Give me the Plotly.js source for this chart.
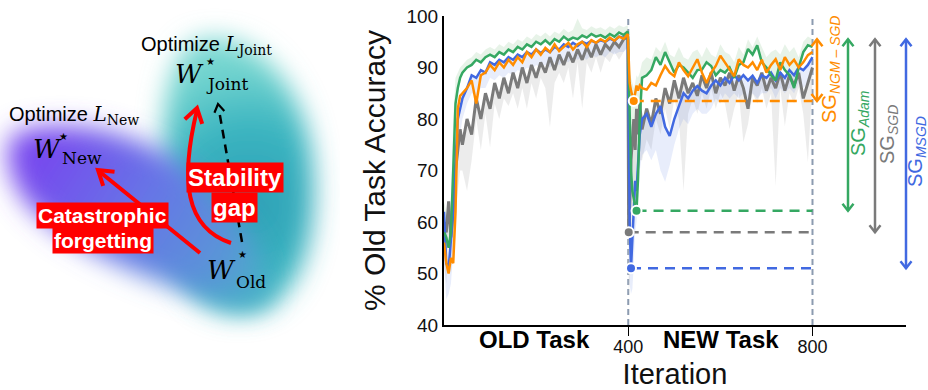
<!DOCTYPE html>
<html><head><meta charset="utf-8">
<script src="https://cdn.plot.ly/plotly-3.0.1.min.js"></script>
<style>html,body{margin:0;padding:0;background:#fff}#chart{width:928px;height:390px}</style>
</head><body><div id="chart"></div>
<script>
// ---------------- data ----------------
const iterations = [0,5,10,15,20,25,30,35,40,50,60,70,80,90,100,110,120,130,140,150,160,170,180,190,200,210,220,230,240,250,260,270,280,290,300,310,320,330,340,350,360,370,380,390,399,
  401,403,406,409,412,415,418,421,425,430,440,450,460,470,480,490,500,510,520,530,540,550,560,570,580,590,600,610,620,630,640,650,660,670,680,690,700,710,720,730,740,750,760,770,780,790,800];

const accNGM = [56,52,50,53,52,62,82,84.5,85, 86,87.5,83,88.5,89,90.5,89.5,91,90,91.5, 90.5,92,91,93,92,93.5,92.5,93.8,93,94.5, 93.2,94,94.8,93.5,94.5,95,94,95.3,94.8,95.5, 95,95.8,95.2,96,95.6, 96.5,
  92,87,85.5,84.5,83.5,85,86.5,85.5,86.5,86, 85.7,87,86.5,88.5,90.3,89,88.3,91,89.5,88.3, 90,91.6,89,87,89,90.3,92.3,91,89.5,88.3, 91.6,90.5,90,91,89.5,91.5,89,90.5,91.6,89.5, 92,90.5,91.5,90,91,92.4,93];

const accAdam = [58,57,55,58,70,83,86,88,89, 90,90.5,91.5,91,92,92.5,92,93,92.5,93.5, 93,94,93.5,94.5,94,95,94.5,95.3,94.5,95.5, 95,96,95.3,95.8,95.5,96.2,95.8,96.5,96,96.3, 95.8,96.5,96,96.8,96.3, 97,
  88,78,70,66,64,63,62.2,68,80,88, 88.5,89.5,92,90.5,93,91,89,90.5,90,89, 88,89.5,89.6,91,90.3,88.5,89.5,89,90,88, 90.5,91,93.6,92.5,94.3,91,90,88.5,87.5,91, 89.5,88.5,86,90,93,94.3,94];

const accSGD = [60,58,64,57,62,70,74,78,75, 80,77,84,80,85,82,87,84,88,85, 89,86,90,87,90.5,88,91,89,92,89.5, 92.5,90.5,93,91,93.5,91.5,94,92,94.5,92.5, 94.5,93.5,95,94,95.5, 96,
  58,62,72,76,80,74,82,77,83,78, 82,79,84,81,86,83,87.5,84,88,85, 87,84.5,88.5,86,89,85,88,86.5,89,85.5, 88.5,86,82,88,86.5,89,85.5,88,86,89, 85.5,88.5,86.5,89,84,87,90];

const accMSGD = [62,52,51,56,62,72,80,82,84, 86,88.5,88,89.5,89,91,90.5,91.5,91,92, 91.5,92.5,92,93,92.5,93.5,92.8,93.5,93,94, 93.5,94.5,94,94.8,94.2,95,94.6,95.2,94.8,95.3, 95,95.6,95.2,96,95.8, 96.5,
  80,60,51,56,62,68,66,72,77,80, 81,78.5,81,82.5,78.5,76.7,80,82.5,85,84, 85.5,86.4,85.5,85,86.5,87.5,86.5,88,87,88.5, 87.5,88.5,87.5,88.4,87,88.5,88,89,87.5,89, 88,89.5,88.5,90,89.5,90.5,92];

// lower envelope of the SGD runs (light grey spikes)
const sgdLow = [52,48,58,50,56,62,66,70,70, 66,72,80,74,81,74.5,83,80,84,82.5, 85,82,86,82,87,84,88,86,78.4,87, 89,87,90,84,91,82,91,89,92,89, 92,91,93,91.5,93, 94,
  46,48,52,58,62,62,66,68,72,72, 76,74,80,77,82,78,84,80,66,81, 84,81,85,82,86,82,85,83,78,82, 85,75.5,79,85,83,86,82,85,67,86, 78.6,85,83,86,81,71.6,87];

// lower envelope of the MSGD runs (light blue band)
const msgdLow = [52,45,46,48,54,62,72,77,80, 83,85,84.5,86,86,88,87.5,88.5,88,89, 88.5,89.5,89,90,89.5,90.5,90,90.5,90,91, 90.5,91.5,91,92,91.5,92,91.5,92.5,92,92.5, 92,93,92.5,93,93, 94,
  70,48,46,47,52,58,60,64,70,73, 74,72,74,70,67.8,71,75,78,80,79, 81,82,81,81,82,84,83,85,84,85, 84,85,84,85,84,85,85,86,84,86, 85,86,85,87,86,87,89];

// upper envelope of the Adam / NGM runs (light green / orange halo)
const upperBand = [64,62,60,64,80,88,89,90,90.5, 91.5,92,93,92.5,93.5,94,93.5,94.5,94,95, 94.5,95.5,95,96,95.5,96.5,96,96.8,96,97, 96.5,97.5,96.8,97.3,99.5,97.6,97.3,98,97.5,97.8, 97.3,98,97.5,98.2,97.8, 98.2,
  95,90,88,87,86,87,88.5,88,89,91, 92,91.5,94,93,95,92.5,92,94,92,91.5, 93,93.5,92,94,92.5,92,94.5,93,92.5,91, 94,92.5,95.5,94,96,94,92,93,93.5,92.5, 94.5,93,94,92,95,96,95.5];

const xTickVals = [400, 800];
const xTickText = ['400', '800'];
const yTickVals = [40, 50, 60, 70, 80, 90, 100];
const phaseNames = ['<b>OLD Task</b>', '<b>NEW Task</b>'];
const phaseCentres = [197, 601];
const taskSwitch = 400, taskEnd = 800;
const sgTop = 95.5;
const seriesNames = ['NGM-SGD', 'Adam', 'SGD', 'MSGD'];
const sgLabels = ['SG<sub><i>NGM – SGD</i></sub>', 'SG<sub><i>Adam</i></sub>', 'SG<sub><i>SGD</i></sub>', 'SG<sub><i>MSGD</i></sub>'];

// ---------------- styling / geometry ----------------
const COL = {ngm: '#ff8c00', adam: '#35a862', sgd: '#7a7a7a', msgd: '#4169e1'};
const W = 928, H = 390;
const PLOT = {left: 444, right: 906, top: 16, bottom: 325};
const Y_RANGE = [40, 100];
const P = px => px / W;          // pixel -> paper x
const Q = py => 1 - py / H;      // pixel -> paper y
const yPx = v => PLOT.top + (Y_RANGE[1] - v) / (Y_RANGE[1] - Y_RANGE[0]) * (PLOT.bottom - PLOT.top);
const SANS = 'Liberation Sans, Arial, sans-serif';
const SERIF = 'DejaVu Serif';

function newPhaseMin(vals) {
  let bi = -1;
  for (let i = 0; i < iterations.length; i++) {
    if (iterations[i] > taskSwitch && (bi < 0 || vals[i] < vals[bi])) bi = i;
  }
  return {x: iterations[bi], y: vals[bi]};
}

const series = [
  {vals: accNGM, col: COL.ngm, w: 2.5},
  {vals: accAdam, col: COL.adam, w: 2.5},
  {vals: accSGD, col: COL.sgd, w: 3},
  {vals: accMSGD, col: COL.msgd, w: 2.5}
];
const mins = series.map(s => newPhaseMin(s.vals));

const traces = [];
const base = {x: iterations, mode: 'lines', hoverinfo: 'skip', showlegend: false};
traces.push(Object.assign({}, base, {y: upperBand, line: {width: 0}}));
traces.push(Object.assign({}, base, {y: accAdam, line: {width: 0}, fill: 'tonexty', fillcolor: 'rgba(175,215,180,0.3)'}));
traces.push(Object.assign({}, base, {y: sgdLow, line: {width: 0}}));
traces.push(Object.assign({}, base, {y: accSGD, line: {width: 0}, fill: 'tonexty', fillcolor: 'rgba(212,212,212,0.45)'}));
traces.push(Object.assign({}, base, {y: msgdLow, line: {width: 0}}));
traces.push(Object.assign({}, base, {y: accMSGD, line: {width: 0}, fill: 'tonexty', fillcolor: 'rgba(65,105,225,0.12)'}));
[2, 3, 1, 0].forEach(k => {
  traces.push(Object.assign({}, base, {y: series[k].vals, name: seriesNames[k], line: {color: series[k].col, width: series[k].w}}));
});
[0, 1, 2, 3].forEach(k => {
  traces.push({x: [mins[k].x, taskEnd], y: [mins[k].y, mins[k].y], mode: 'lines', hoverinfo: 'skip', showlegend: false,
    line: {color: series[k].col, width: 2.5, dash: '10px,7px'}});
});
[0, 1, 2, 3].forEach(k => {
  traces.push({x: [mins[k].x], y: [mins[k].y], mode: 'markers', hoverinfo: 'skip', showlegend: false,
    marker: {color: series[k].col, size: 10, line: {color: '#fff', width: 2}}});
});

// ---------------- illustration (left) ----------------
const blobSvg = "<svg xmlns='http://www.w3.org/2000/svg' width='340' height='390' viewBox='0 0 340 390'>" +
  "<defs><filter id='f' x='-40%' y='-40%' width='180%' height='180%'><feGaussianBlur stdDeviation='13'/></filter>" +
  "<radialGradient id='t' gradientUnits='userSpaceOnUse' cx='250' cy='205' r='140'>" +
  "<stop offset='0' stop-color='#2f9fb6'/><stop offset='0.55' stop-color='#3ab4c0'/><stop offset='1' stop-color='#76d6d0'/></radialGradient>" +
  "<linearGradient id='p' gradientUnits='userSpaceOnUse' x1='40' y1='150' x2='260' y2='290'>" +
  "<stop offset='0' stop-color='#7748ee'/><stop offset='0.45' stop-color='#6676e6'/><stop offset='0.8' stop-color='#5a94d8'/><stop offset='1' stop-color='#4aaec8'/></linearGradient></defs>" +
  "<path filter='url(#f)' fill='url(#t)' d='M200,40 C255,28 300,85 310,145 C320,205 312,285 265,308 C222,325 182,300 172,250 C162,190 150,55 200,40Z'/>" +
  "<path filter='url(#f)' fill='url(#p)' d='M18,132 C60,118 130,128 180,163 C220,193 262,240 270,290 C272,310 240,312 210,300 C150,280 80,252 40,216 C8,190 -2,142 18,132Z'/>" +
  "</svg>";
const blobUri = 'data:image/svg+xml;charset=utf-8,' + encodeURIComponent(blobSvg);

const RED = '#ff0000';
function lineShape(x1, y1, x2, y2, color, width, dash) {
  return {type: 'line', xref: 'paper', yref: 'paper', x0: P(x1), y0: Q(y1), x1: P(x2), y1: Q(y2),
    line: {color: color, width: width, dash: dash || 'solid'}};
}
// open chevron arrow head at (tx,ty) pointing along (ux,uy), pixel units
function headShape(tx, ty, ux, uy, len, half, color, width) {
  const n = Math.hypot(ux, uy); ux /= n; uy /= n;
  const bx = tx - ux * len, by = ty - uy * len;
  const ax1 = bx - uy * half, ay1 = by + ux * half;
  const ax2 = bx + uy * half, ay2 = by - ux * half;
  return {type: 'path', xref: 'paper', yref: 'paper',
    path: `M${P(ax1)},${Q(ay1)} L${P(tx)},${Q(ty)} L${P(ax2)},${Q(ay2)}`,
    line: {color: color, width: width}};
}

const shapes = [
  {type: 'line', xref: 'x', yref: 'y', x0: taskSwitch, x1: taskSwitch, y0: Y_RANGE[0], y1: Y_RANGE[1], layer: 'below', line: {color: '#8c9bb0', width: 2, dash: '6px,4px'}},
  {type: 'line', xref: 'x', yref: 'y', x0: taskEnd, x1: taskEnd, y0: Y_RANGE[0], y1: Y_RANGE[1], layer: 'below', line: {color: '#8c9bb0', width: 2, dash: '6px,4px'}},
  // curved "stability gap" arrow
  {type: 'path', xref: 'paper', yref: 'paper',
    path: `M${P(231)},${Q(243)} C${P(185)},${Q(228)} ${P(180)},${Q(180)} ${P(197)},${Q(110)}`,
    line: {color: RED, width: 4}},
  headShape(197, 108, 17, -66, 14, 9, RED, 4),
  // straight "catastrophic forgetting" arrow
  lineShape(200, 253, 100, 172, RED, 4),
  headShape(98, 170, -102, -83, 14, 9, RED, 4),
  // dashed joint arrow
  lineShape(242, 242, 219, 110, '#000', 2.5, '9px,6px'),
  headShape(218, 104, -24, -137, 8, 5, '#000', 2.2)
];

// stability-gap double arrows
const arrowPx = [817, 848, 875, 906];
[0, 1, 2, 3].forEach(k => {
  const x = arrowPx[k], yt = yPx(sgTop), yb = yPx(mins[k].y);
  shapes.push(lineShape(x, yt, x, yb, series[k].col, 2.5));
  shapes.push(headShape(x, yt, 0, -1, 7, 5.5, series[k].col, 2.5));
  shapes.push(headShape(x, yb, 0, 1, 7, 5.5, series[k].col, 2.5));
});

function txt(x, y, text, size, family, extra) {
  return Object.assign({xref: 'paper', yref: 'paper', x: P(x), y: Q(y), text: text, showarrow: false,
    xanchor: 'center', yanchor: 'middle', font: {size: size, family: family, color: '#000'}}, extra || {});
}
const annotations = [];
annotations.push(txt(139, 45, `Optimize <span style="font-family:${SERIF}"><i>L</i><sub>Joint</sub></span>`, 20, SANS, {xanchor: 'left'}));
annotations.push(txt(7, 115, `Optimize <span style="font-family:${SERIF}"><i>L</i><sub>New</sub></span>`, 20, SANS, {xanchor: 'left'}));
[[189, 74, 210, 62, 227, 84, 'Joint'], [47, 149, 63, 136, 82, 158, 'New'], [221, 270, 242, 254, 251, 282, 'Old']].forEach(m => {
  annotations.push(txt(m[0], m[1], '<i>W</i>', 26, SERIF));
  annotations.push(txt(m[2], m[3], '★', 10, 'DejaVu Sans'));
  annotations.push(txt(m[4], m[5], m[6], 17, SERIF));
});
[[234.5, 177.5, 'Stability', 24], [234.5, 207.5, 'gap', 24], [102, 215, 'Catastrophic', 21], [102.5, 240.5, 'forgetting', 21]].forEach(r => {
  annotations.push(txt(r[0], r[1], '<b>' + r[2] + '</b>', r[3], SANS, {bgcolor: RED, borderpad: 1, font: {size: r[3], family: SANS, color: '#fff'}}));
});
phaseNames.forEach((t, i) => {
  annotations.push({xref: 'x', yref: 'paper', x: phaseCentres[i], y: Q(339), text: t, showarrow: false,
    xanchor: 'center', yanchor: 'middle', font: {size: 24, family: SANS, color: '#000'}});
});
const labelPx = [[830, 70], [859, 123], [888, 135], [917, 152]];
[0, 1, 2, 3].forEach(k => {
  annotations.push({xref: 'paper', yref: 'paper', x: P(labelPx[k][0]), y: Q(labelPx[k][1]), text: sgLabels[k], showarrow: false,
    textangle: -90, xanchor: 'center', yanchor: 'middle', font: {size: 20, family: SANS, color: series[k].col}});
});

const layout = {
  width: W, height: H, margin: {l: 0, r: 0, t: 0, b: 0},
  paper_bgcolor: '#fff', plot_bgcolor: 'rgba(0,0,0,0)',
  font: {family: SANS, color: '#000'},
  showlegend: false, hovermode: false,
  xaxis: {domain: [PLOT.left / W, PLOT.right / W], range: [0, 1003], tickvals: xTickVals, ticktext: xTickText,
    ticks: 'outside', ticklen: 9, tickwidth: 1.5, tickcolor: '#000', ticklabelstandoff: -5,
    showline: true, linecolor: '#000', linewidth: 2,
    showgrid: false, zeroline: false, tickfont: {size: 18, color: '#111'},
    title: {text: 'Iteration', font: {size: 29, color: '#111'}, standoff: 9}},
  yaxis: {domain: [1 - PLOT.bottom / H, 1 - PLOT.top / H], range: Y_RANGE, tickvals: yTickVals, ticks: '',
    showline: true, linecolor: '#000', linewidth: 2, showgrid: false, zeroline: false,
    tickfont: {size: 19, color: '#111'},
    title: {text: '% Old Task Accuracy', font: {size: 30, color: '#111'}, standoff: 12}},
  shapes: shapes,
  annotations: annotations,
  images: [{source: blobUri, xref: 'paper', yref: 'paper', x: 0, y: 1, sizex: 340 / W, sizey: 1,
    xanchor: 'left', yanchor: 'top', sizing: 'stretch', layer: 'below'}]
};

Plotly.newPlot('chart', traces, layout, {displayModeBar: false, staticPlot: true});
</script>
</body></html>
